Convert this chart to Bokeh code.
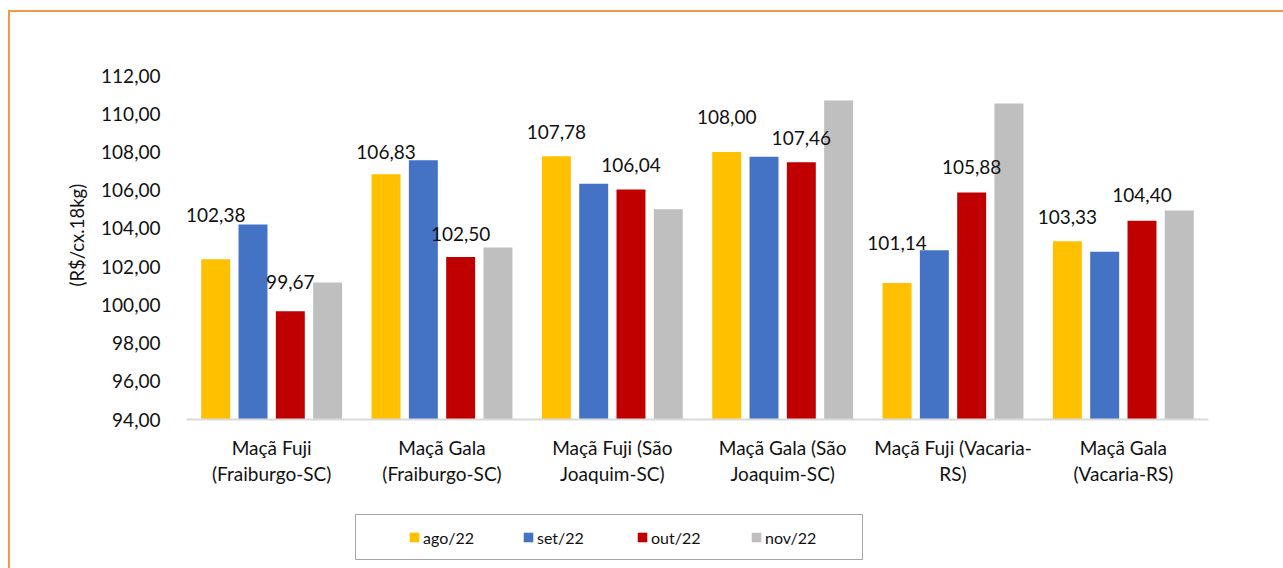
from bokeh.core.properties import value
from bokeh.embed import file_html
from bokeh.layouts import column
from bokeh.models import (ColumnDataSource, FactorRange, FixedTicker, Legend,
                          LegendItem, Range1d, Title)
from bokeh.plotting import figure
from bokeh.resources import INLINE
from bokeh.transform import dodge

# ---- data -------------------------------------------------------------
categories = [
    "Maçã Fuji\n(Fraiburgo-SC)",
    "Maçã Gala\n(Fraiburgo-SC)",
    "Maçã Fuji (São\nJoaquim-SC)",
    "Maçã Gala (São\nJoaquim-SC)",
    "Maçã Fuji (Vacaria-\nRS)",
    "Maçã Gala\n(Vacaria-RS)",
]
months = ["ago/22", "set/22", "out/22", "nov/22"]
ago_22 = [102.38, 106.83, 107.78, 108.00, 101.14, 103.33]
set_22 = [104.20, 107.56, 106.34, 107.75, 102.85, 102.78]
out_22 = [99.67, 102.50, 106.04, 107.46, 105.88, 104.40]
nov_22 = [101.17, 103.00, 105.00, 110.69, 110.53, 104.93]
y_ticks = [94, 96, 98, 100, 102, 104, 106, 108, 110, 112]
y_tick_labels = ["94,00", "96,00", "98,00", "100,00", "102,00",
                 "104,00", "106,00", "108,00", "110,00", "112,00"]
y_title = "(R$/cx.18kg)"

# ---- styling ----------------------------------------------------------
FONT = "Lato"
TXT = "#111111"
colors = ["#FFC000", "#4472C4", "#C00000", "#BFBFBF"]
pitch = 0.219
bar_w = 0.17
offsets = [-1.5 * pitch, -0.5 * pitch, 0.5 * pitch, 1.5 * pitch]
# vertical lift (px) of the value labels above their bars
ago_lift = [44, 22, 24, 35, 40, 24]
out_lift = [29, 23, 24, 24, 25, 26]


def fmt(v):
    return f"{v:.2f}".replace(".", ",")


def no_frame_align(fig):
    # keep each figure's own borders instead of lining the frames up
    if "frame_align" in fig.properties():
        fig.frame_align = False


# ---- main bar chart ---------------------------------------------------
p = figure(
    width=1273, height=493,
    x_range=FactorRange(*categories),
    y_range=Range1d(94, 112),
    output_backend="svg", toolbar_location=None,
    min_border_left=176, min_border_right=75,
    min_border_top=63, min_border_bottom=86,
)
no_frame_align(p)
p.background_fill_color = "white"
p.border_fill_color = "white"
p.outline_line_color = None
p.xgrid.grid_line_color = None
p.ygrid.grid_line_color = None

src = ColumnDataSource(dict(
    cat=categories, ago=ago_22, set=set_22, out=out_22, nov=nov_22,
    ago_lbl=[fmt(v) for v in ago_22], out_lbl=[fmt(v) for v in out_22],
    ago_off=[-v for v in ago_lift], out_off=[-v for v in out_lift],
))

series = ["ago", "set", "out", "nov"]
for key, off, col in zip(series, offsets, colors):
    p.vbar(x=dodge("cat", off, range=p.x_range), top=key, bottom=94,
           width=bar_w, source=src, fill_color=col, line_color=None)

# value labels for ago/22 and out/22
for key, off in (("ago", offsets[0]), ("out", offsets[2])):
    p.text(x=dodge("cat", off, range=p.x_range), y=key, text=f"{key}_lbl",
           y_offset=f"{key}_off", source=src,
           text_font=value(FONT), text_font_size="19px", text_color=TXT,
           text_align="center", text_baseline="middle")

xa = p.xaxis[0]
xa.axis_line_color = "#D9D9D9"
xa.axis_line_width = 2
xa.major_tick_line_color = None
xa.major_tick_in = 0
xa.major_tick_out = 0
xa.minor_tick_line_color = None
xa.major_label_standoff = 16
xa.major_label_text_font = FONT
xa.major_label_text_font_size = "19px"
xa.major_label_text_color = TXT
xa.major_label_text_line_height = 1.15

ya = p.yaxis[0]
ya.ticker = FixedTicker(ticks=y_ticks)
ya.major_label_overrides = {t: s for t, s in zip(y_ticks, y_tick_labels)}
ya.axis_line_color = None
ya.major_tick_line_color = None
ya.minor_tick_line_color = None
ya.major_tick_in = 0
ya.major_tick_out = 0
ya.major_label_standoff = 26
ya.major_label_text_font = FONT
ya.major_label_text_font_size = "19px"
ya.major_label_text_color = TXT

p.add_layout(Title(text=y_title, align="left", offset=133, standoff=22,
                   text_font=FONT, text_font_size="18.5px",
                   text_font_style="normal", text_color=TXT), "left")

# ---- legend strip -----------------------------------------------------
lg = figure(
    width=1273, height=63,
    x_range=Range1d(0, 1), y_range=Range1d(0, 1),
    output_backend="svg", toolbar_location=None,
    x_axis_location=None, y_axis_location=None,
    min_border_left=345, min_border_right=421,
    min_border_top=9, min_border_bottom=9,
)
no_frame_align(lg)
lg.xgrid.grid_line_color = None
lg.ygrid.grid_line_color = None
lg.outline_line_color = "#A6A6A6"
lg.outline_line_width = 1
lg.border_fill_color = "white"

swatches = [lg.vbar(x=[0.5], top=[0.0], bottom=[0.0], width=0.0,
                    fill_color=col, line_color=None) for col in colors]
legend = Legend(
    items=[LegendItem(label=m, renderers=[r]) for m, r in zip(months, swatches)],
    orientation="horizontal", location=(53, 12),
    padding=0, margin=0, spacing=10, label_standoff=3,
    glyph_width=12, glyph_height=12, label_width=89, label_height=20,
    label_text_font=FONT, label_text_font_size="16px", label_text_color=TXT,
    border_line_alpha=0, background_fill_alpha=0,
)
lg.add_layout(legend, "center")

page = column(p, lg, margin=(10, 0, 0, 8), spacing=0,
              styles={"border-top": "2px solid #F79646",
                      "border-left": "2px solid #F79646"})

open("out.html", "w").write(file_html(page, INLINE))
